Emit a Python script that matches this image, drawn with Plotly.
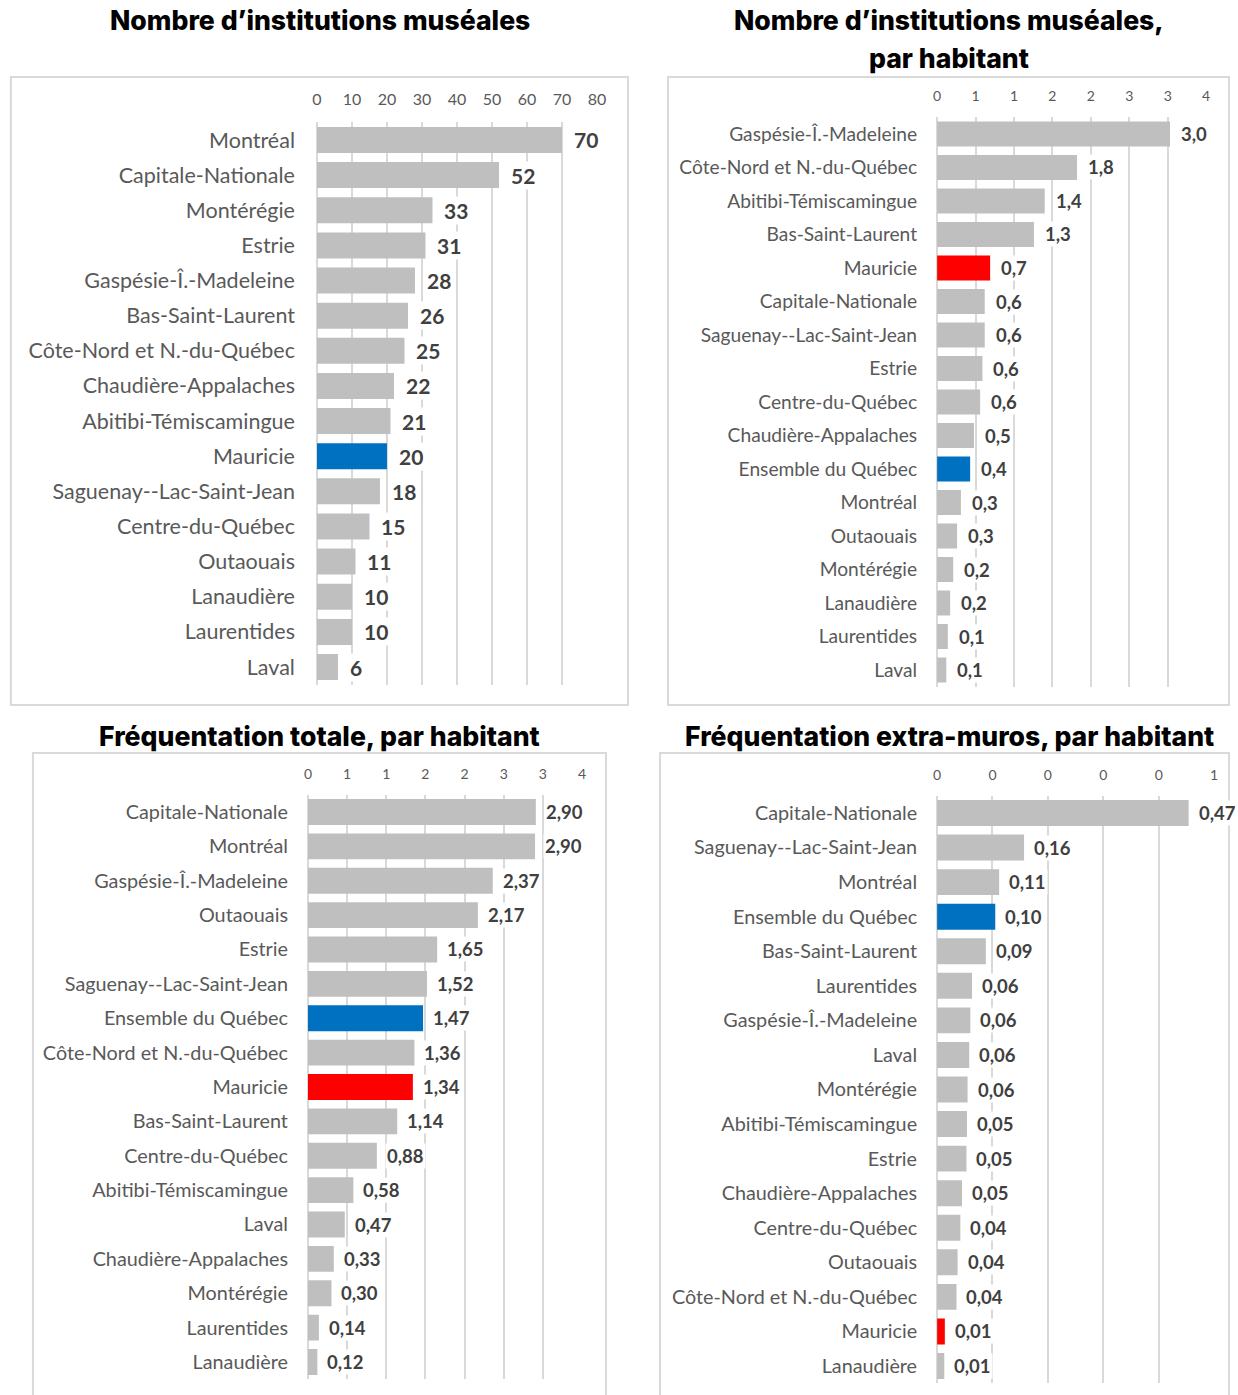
import plotly.graph_objects as go

W, H = 1238, 1395

GRAY = "#BFBFBF"
BLUE = "#0070C0"
RED = "#FF0000"

# ---------------- Data ----------------
p1_title = ["Nombre d’institutions muséales"]
p1_cats = ["Montréal", "Capitale-Nationale", "Montérégie", "Estrie", "Gaspésie-Î.-Madeleine",
           "Bas-Saint-Laurent", "Côte-Nord et N.-du-Québec", "Chaudière-Appalaches",
           "Abitibi-Témiscamingue", "Mauricie", "Saguenay--Lac-Saint-Jean", "Centre-du-Québec",
           "Outaouais", "Lanaudière", "Laurentides", "Laval"]
p1_vals = [70, 52, 33, 31, 28, 26, 25, 22, 21, 20, 18, 15, 11, 10, 10, 6]
p1_labels = ["70", "52", "33", "31", "28", "26", "25", "22", "21", "20", "18", "15",
             "11", "10", "10", "6"]
p1_ticks = [0, 10, 20, 30, 40, 50, 60, 70, 80]
p1_ticktext = ["0", "10", "20", "30", "40", "50", "60", "70", "80"]
p1_highlight = {"Mauricie": BLUE}

p2_title = ["Nombre d’institutions muséales,", "par habitant"]
p2_cats = ["Gaspésie-Î.-Madeleine", "Côte-Nord et N.-du-Québec", "Abitibi-Témiscamingue",
           "Bas-Saint-Laurent", "Mauricie", "Capitale-Nationale", "Saguenay--Lac-Saint-Jean",
           "Estrie", "Centre-du-Québec", "Chaudière-Appalaches", "Ensemble du Québec",
           "Montréal", "Outaouais", "Montérégie", "Lanaudière", "Laurentides", "Laval"]
p2_vals = [3.03, 1.82, 1.40, 1.26, 0.69, 0.62, 0.62, 0.59, 0.56, 0.48, 0.43,
           0.31, 0.26, 0.21, 0.17, 0.14, 0.12]
p2_labels = ["3,0", "1,8", "1,4", "1,3", "0,7", "0,6", "0,6", "0,6", "0,6", "0,5", "0,4",
             "0,3", "0,3", "0,2", "0,2", "0,1", "0,1"]
p2_ticks = [0, 0.5, 1.0, 1.5, 2.0, 2.5, 3.0, 3.5]
p2_ticktext = ["0", "1", "1", "2", "2", "3", "3", "4"]
p2_highlight = {"Mauricie": RED, "Ensemble du Québec": BLUE}

p3_title = ["Fréquentation totale, par habitant"]
p3_cats = ["Capitale-Nationale", "Montréal", "Gaspésie-Î.-Madeleine", "Outaouais", "Estrie",
           "Saguenay--Lac-Saint-Jean", "Ensemble du Québec", "Côte-Nord et N.-du-Québec",
           "Mauricie", "Bas-Saint-Laurent", "Centre-du-Québec", "Abitibi-Témiscamingue",
           "Laval", "Chaudière-Appalaches", "Montérégie", "Laurentides", "Lanaudière"]
p3_vals = [2.91, 2.90, 2.36, 2.17, 1.65, 1.52, 1.47, 1.36, 1.34, 1.14, 0.88, 0.58,
           0.47, 0.33, 0.30, 0.14, 0.12]
p3_labels = ["2,90", "2,90", "2,37", "2,17", "1,65", "1,52", "1,47", "1,36", "1,34", "1,14",
             "0,88", "0,58", "0,47", "0,33", "0,30", "0,14", "0,12"]
p3_ticks = [0, 0.5, 1.0, 1.5, 2.0, 2.5, 3.0, 3.5]
p3_ticktext = ["0", "1", "1", "2", "2", "3", "3", "4"]
p3_highlight = {"Mauricie": RED, "Ensemble du Québec": BLUE}

p4_title = ["Fréquentation extra-muros, par habitant"]
p4_cats = ["Capitale-Nationale", "Saguenay--Lac-Saint-Jean", "Montréal", "Ensemble du Québec",
           "Bas-Saint-Laurent", "Laurentides", "Gaspésie-Î.-Madeleine", "Laval", "Montérégie",
           "Abitibi-Témiscamingue", "Estrie", "Chaudière-Appalaches", "Centre-du-Québec",
           "Outaouais", "Côte-Nord et N.-du-Québec", "Mauricie", "Lanaudière"]
p4_vals = [0.454, 0.157, 0.112, 0.105, 0.088, 0.063, 0.060, 0.058, 0.055, 0.054, 0.053,
           0.045, 0.042, 0.037, 0.035, 0.014, 0.013]
p4_labels = ["0,47", "0,16", "0,11", "0,10", "0,09", "0,06", "0,06", "0,06", "0,06", "0,05",
             "0,05", "0,05", "0,04", "0,04", "0,04", "0,01", "0,01"]
p4_ticks = [0, 0.1, 0.2, 0.3, 0.4, 0.5]
p4_ticktext = ["0", "0", "0", "0", "0", "1"]
p4_highlight = {"Mauricie": RED, "Ensemble du Québec": BLUE}

# ---------------- Layout geometry (page pixels) ----------------
panels = [
    dict(cats=p1_cats, vals=p1_vals, labels=p1_labels, ticks=p1_ticks, ticktext=p1_ticktext,
         hl=p1_highlight, title=p1_title, xr=(317, 597), yr=(122.4, 684.6), rng=[0, 80],
         catfont=21.5, valfont=21, tickfont=16, gap=0.26, shift=10, tick_y=99, standoff=21,
         box=(11, 77, 628, 705), title_xy=(320, 20)),
    dict(cats=p2_cats, vals=p2_vals, labels=p2_labels, ticks=p2_ticks, ticktext=p2_ticktext,
         hl=p2_highlight, title=p2_title, xr=(937, 1206), yr=(117.25, 686.75), rng=[0, 3.5],
         catfont=19.2, valfont=18.5, tickfont=14, gap=0.25, shift=9, tick_y=96, standoff=19,
         box=(668, 77, 1229, 705), title_xy=(949, 20)),
    dict(cats=p3_cats, vals=p3_vals, labels=p3_labels, ticks=p3_ticks, ticktext=p3_ticktext,
         hl=p3_highlight, title=p3_title, xr=(308, 582), yr=(794.8, 1379.2), rng=[0, 3.5],
         catfont=19.8, valfont=18.5, tickfont=14, gap=0.25, shift=8, tick_y=774, standoff=19,
         box=(33, 753, 606, 1400), title_xy=(320, 736)),
    dict(cats=p4_cats, vals=p4_vals, labels=p4_labels, ticks=p4_ticks, ticktext=p4_ticktext,
         hl=p4_highlight, title=p4_title, xr=(937, 1214), yr=(795.7, 1383.3), rng=[0, 0.5],
         catfont=19.8, valfont=18.5, tickfont=14, gap=0.25, shift=8, tick_y=775, standoff=19,
         box=(660, 753, 1237, 1400), title_xy=(949, 736)),
]

LABEL_FONT = "Lato, 'Open Sans', sans-serif"
TITLE_FONT = "Inter, 'Open Sans', sans-serif"
TITLE_LINE = 38
TITLE_SIZE = 26.6

# horizontal calibration of the rendered page
SX, OX = 0.9885, 5.1


def px(x):
    return min(max((x - OX) / SX / W, 0.0), 1.0)


def py(y):
    return 1 - y / H


fig = go.Figure()
annotations = []
shapes = []

for i, p in enumerate(panels, start=1):
    xa = "x" if i == 1 else f"x{i}"
    ya = "y" if i == 1 else f"y{i}"
    colors = [p["hl"].get(c, GRAY) for c in p["cats"]]
    fig.add_trace(go.Bar(
        x=p["vals"], y=p["cats"], orientation="h", width=1 - p["gap"],
        marker=dict(color=colors, line=dict(width=0)),
        xaxis=xa, yaxis=ya, showlegend=False, hoverinfo="skip",
    ))
    n = len(p["cats"])
    x0, x1 = p["xr"]
    yt, yb = p["yr"]
    fig.update_layout(**{
        ("xaxis" if i == 1 else f"xaxis{i}"): dict(
            domain=[px(x0), px(x1)], anchor=ya, side="top", range=p["rng"],
            tickmode="array", tickvals=p["ticks"], ticktext=p["ticktext"],
            showgrid=True, gridcolor="#D9D9D9", gridwidth=1.5,
            zeroline=True, zerolinecolor="#D9D9D9", zerolinewidth=1.5,
            showline=False, ticks="",
            ticklabelstandoff=int(yt - p["tick_y"] - p["tickfont"] * 0.6),
            tickfont=dict(family=LABEL_FONT, size=p["tickfont"], color="#595959"),
            fixedrange=True,
        ),
        ("yaxis" if i == 1 else f"yaxis{i}"): dict(
            domain=[py(yb), py(yt)], anchor=xa, type="category",
            categoryorder="array", categoryarray=p["cats"], range=[n - 0.5, -0.5],
            showgrid=False, zeroline=False, showline=False, ticks="",
            ticklabelstandoff=p["standoff"],
            tickfont=dict(family=LABEL_FONT, size=p["catfont"], color="#595959"),
            fixedrange=True,
        ),
    })
    for c, v, t in zip(p["cats"], p["vals"], p["labels"]):
        annotations.append(dict(
            x=v, y=c, xref=xa, yref=ya, xanchor="left", yanchor="middle",
            xshift=p["shift"], text=t,
            showarrow=False, bgcolor="white", borderpad=1,
            font=dict(family=LABEL_FONT, size=p["valfont"], color="#404040", weight="bold"),
        ))
    bx0, by0, bx1, by1 = p["box"]
    shapes.append(dict(type="rect", xref="paper", yref="paper",
                       x0=px(bx0), x1=px(bx1), y0=py(by1), y1=py(by0),
                       line=dict(color="#D9D9D9", width=2), fillcolor="rgba(0,0,0,0)",
                       layer="below"))
    tx, ty = p["title_xy"]
    for k, line in enumerate(p["title"]):
        annotations.append(dict(
            x=px(tx), y=py(ty + k * TITLE_LINE), xref="paper", yref="paper",
            xanchor="center", yanchor="middle",
            text=line, showarrow=False,
            font=dict(family=TITLE_FONT, size=TITLE_SIZE, color="black", weight=800),
        ))

fig.update_layout(
    width=W, height=H, margin=dict(l=0, r=0, t=0, b=0),
    paper_bgcolor="white", plot_bgcolor="rgba(0,0,0,0)",
    annotations=annotations, shapes=shapes,
)

fig.write_html(
    "out.html",
    config={"displayModeBar": False},
    post_script="document.body.style.margin='0';document.body.style.overflow='hidden';",
)
